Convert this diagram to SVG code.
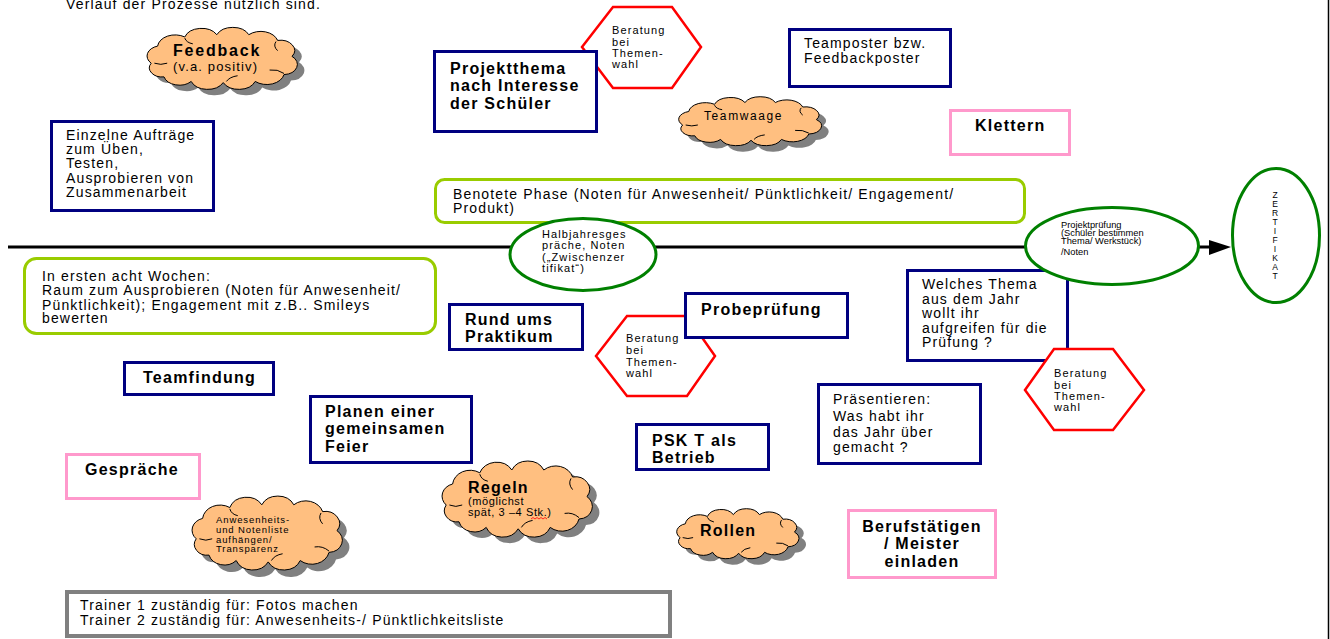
<svg xmlns="http://www.w3.org/2000/svg" xmlns:xlink="http://www.w3.org/1999/xlink" width="1330" height="639" viewBox="0 0 1330 639">
  <style>
    text { font-family: "Liberation Sans", Arial, sans-serif; fill: #000; }
    .t { font-size: 14px; letter-spacing: 1.15px; }
    .b { font-size: 16px; font-weight: bold; letter-spacing: 1.25px; }
    .s { font-size: 11px; letter-spacing: 1.1px; }
    .xs { font-size: 9.5px; letter-spacing: 0.9px; }
    .tiny { font-size: 9.3px; letter-spacing: 0px; }
    .mid { text-anchor: middle; }
    .navy { fill: #fff; stroke: #000080; stroke-width: 3; }
    .pink { fill: #fff; stroke: #ff99cc; stroke-width: 3; }
    .lime { fill: #fff; stroke: #99cc00; stroke-width: 3; }
    .green { fill: #fff; stroke: #008000; stroke-width: 3; }
    .hex { fill: #fff; stroke: #ff0000; stroke-width: 2.5; }
    .grey { fill: #fff; stroke: #808080; stroke-width: 4; }
    .cloud { fill: #ffbf80; stroke: #000; stroke-width: 1; }
    .cloud-shadow { fill: #808080; stroke: none; }
  </style>
  <defs>
    <!-- bumpy cloud outline, stretched to each cloud's box -->
    <symbol id="cloud-shape" viewBox="0 0 100 50" preserveAspectRatio="none" overflow="visible">
      <path vector-effect="non-scaling-stroke" d="M7,30 A9,9 0 0 1 11,15 A11,11 0 0 1 28,7 A11,11 0 0 1 48,5 A11,11 0 0 1 68,5 A11,11 0 0 1 86,10 A9,9 0 0 1 95,24 A9,9 0 0 1 90,40 A11,11 0 0 1 72,46 A11,11 0 0 1 52,47 A11,11 0 0 1 32,46 A10,10 0 0 1 15,42 A8,8 0 0 1 7,30 Z"/>
      <path vector-effect="non-scaling-stroke" fill="none" d="M9,30 Q13,32 17,30 M85,11 Q83,15 86,19 M90,39 Q86,35 81,36 M54,46 Q56,42 61,41 M28,8 Q29,12 33,13"/>
    </symbol>
  </defs>

  <rect width="1330" height="639" fill="#fff"/>

  <!-- page edge on the right -->
  <line x1="1328.5" y1="0" x2="1328.5" y2="639" stroke="#000" stroke-width="1.5"/>

  <text class="t" x="66" y="9">Verlauf der Prozesse nützlich sind.</text>

  <!-- time axis -->
  <g id="connectors">
    <line x1="8" y1="247" x2="1212" y2="247" stroke="#000" stroke-width="3"/>
    <polygon points="1209,240 1231,247 1209,255" fill="#000"/>
  </g>

  <!-- upper half (second term) -->
  <g id="feedback">
    <use xlink:href="#cloud-shape" class="cloud-shadow" x="147" y="35" width="160" height="57"/>
    <use xlink:href="#cloud-shape" class="cloud" x="140" y="29" width="160" height="57"/>
    <text class="b" x="173" y="56" style="letter-spacing:1.8px">Feedback</text>
    <text class="t" x="173" y="71" style="font-size:13px">(v.a. positiv)</text>
  </g>

  <g id="einzelne-auftraege">
    <rect class="navy" x="51.5" y="121.5" width="162" height="89"/>
    <text class="t" x="66" y="140">Einzelne Aufträge</text>
    <text class="t" x="66" y="154">zum Üben,</text>
    <text class="t" x="66" y="168">Testen,</text>
    <text class="t" x="66" y="183">Ausprobieren von</text>
    <text class="t" x="66" y="197">Zusammenarbeit</text>
  </g>

  <g id="beratung-1">
    <polygon class="hex" points="582,47 613,7 672,7 701,47 672,88 613,88"/>
    <text class="s" x="612" y="34">Beratung</text>
    <text class="s" x="612" y="46">bei</text>
    <text class="s" x="612" y="57">Themen-</text>
    <text class="s" x="612" y="68">wahl</text>
  </g>

  <g id="projektthema">
    <rect class="navy" x="434.5" y="51.5" width="162" height="80"/>
    <text class="b" x="450" y="74">Projektthema</text>
    <text class="b" x="450" y="91">nach Interesse</text>
    <text class="b" x="450" y="109">der Schüler</text>
  </g>

  <g id="teamposter">
    <rect class="navy" x="789.5" y="29.5" width="161" height="57"/>
    <text class="t" x="804" y="48">Teamposter bzw.</text>
    <text class="t" x="804" y="63">Feedbackposter</text>
  </g>

  <g id="teamwaage">
    <use xlink:href="#cloud-shape" class="cloud-shadow" x="679" y="104" width="152" height="45"/>
    <use xlink:href="#cloud-shape" class="cloud" x="672" y="98" width="152" height="45"/>
    <text class="t" x="704" y="120" style="font-size:12px;letter-spacing:1.6px">Teamwaage</text>
  </g>

  <g id="klettern">
    <rect class="pink" x="950.5" y="110.5" width="119" height="44"/>
    <text class="b" x="975" y="131">Klettern</text>
  </g>

  <g id="benotete-phase">
    <rect class="lime" x="435.5" y="179.5" width="589" height="43" rx="9"/>
    <text class="t" x="453" y="199">Benotete Phase (Noten für Anwesenheit/ Pünktlichkeit/ Engagement/</text>
    <text class="t" x="453" y="213">Produkt)</text>
  </g>

  <g id="halbjahresgespraeche">
    <ellipse class="green" cx="583" cy="254.5" rx="73" ry="36"/>
    <text class="s" x="542" y="238">Halbjahresges</text>
    <text class="s" x="542" y="249">präche, Noten</text>
    <text class="s" x="542" y="261">(„Zwischenzer</text>
    <text class="s" x="542" y="272">tifikat“)</text>
  </g>

  <g id="welches-thema">
    <rect class="navy" x="907.5" y="270.5" width="160" height="90"/>
    <text class="t" x="922" y="289">Welches Thema</text>
    <text class="t" x="922" y="304">aus dem Jahr</text>
    <text class="t" x="922" y="318">wollt  ihr</text>
    <text class="t" x="922" y="333">aufgreifen für die</text>
    <text class="t" x="922" y="347">Prüfung ?</text>
  </g>

  <g id="projektpruefung">
    <ellipse class="green" cx="1112" cy="246" rx="86.5" ry="38.5"/>
    <text class="tiny" x="1061" y="228">Projektprüfung</text>
    <text class="tiny" x="1061" y="236">(Schüler bestimmen</text>
    <text class="tiny" x="1061" y="244">Thema/ Werkstück)</text>
    <text class="tiny" x="1061" y="255">/Noten</text>
  </g>

  <g id="zertifikat">
    <ellipse class="green" cx="1276" cy="235.5" rx="43.5" ry="67"/>
    <g style="font-size:8.5px" class="mid">
      <text x="1275" y="198">Z</text>
      <text x="1275" y="207">E</text>
      <text x="1275" y="216">R</text>
      <text x="1275" y="225">T</text>
      <text x="1275" y="234">I</text>
      <text x="1275" y="243">F</text>
      <text x="1275" y="252">I</text>
      <text x="1275" y="261">K</text>
      <text x="1275" y="270">A</text>
      <text x="1275" y="279">T</text>
    </g>
  </g>

  <!-- lower half (first term) -->
  <g id="erste-acht-wochen">
    <rect class="lime" x="24.5" y="258.5" width="411" height="75" rx="12"/>
    <text class="t" x="42" y="281">In ersten acht Wochen:</text>
    <text class="t" x="42" y="295">Raum zum Ausprobieren (Noten für Anwesenheit/</text>
    <text class="t" x="42" y="309.5">Pünktlichkeit); Engagement mit z.B.. Smileys</text>
    <text class="t" x="42" y="323">bewerten</text>
  </g>

  <g id="rund-ums-praktikum">
    <rect class="navy" x="449.5" y="304.5" width="133" height="45"/>
    <text class="b" x="465" y="325">Rund ums</text>
    <text class="b" x="465" y="342">Praktikum</text>
  </g>

  <g id="beratung-2">
    <polygon class="hex" points="596,356 627,316 687,316 715,356 687,396 627,396"/>
    <text class="s" x="626" y="342">Beratung</text>
    <text class="s" x="626" y="354">bei</text>
    <text class="s" x="626" y="366">Themen-</text>
    <text class="s" x="626" y="377">wahl</text>
  </g>

  <g id="probepruefung">
    <rect class="navy" x="685.5" y="293.5" width="162" height="44"/>
    <text class="b" x="701" y="315">Probeprüfung</text>
  </g>

  <g id="beratung-3">
    <polygon class="hex" points="1025,390 1054,349 1113,349 1144,390 1113,430 1054,430"/>
    <text class="s" x="1054" y="377">Beratung</text>
    <text class="s" x="1054" y="389">bei</text>
    <text class="s" x="1054" y="400">Themen-</text>
    <text class="s" x="1054" y="411">wahl</text>
  </g>

  <g id="teamfindung">
    <rect class="navy" x="124.5" y="362.5" width="149" height="32"/>
    <text class="b" x="143" y="383">Teamfindung</text>
  </g>

  <g id="planen-feier">
    <rect class="navy" x="310.5" y="396.5" width="161" height="66"/>
    <text class="b" x="325" y="417">Planen einer</text>
    <text class="b" x="325" y="434">gemeinsamen</text>
    <text class="b" x="325" y="452">Feier</text>
  </g>

  <g id="psk-betrieb">
    <rect class="navy" x="636.5" y="424.5" width="132" height="45"/>
    <text class="b" x="652" y="446">PSK T als</text>
    <text class="b" x="652" y="463">Betrieb</text>
  </g>

  <g id="praesentieren">
    <rect class="navy" x="818.5" y="384.5" width="162" height="79"/>
    <text class="t" x="833" y="404">Präsentieren:</text>
    <text class="t" x="833" y="421">Was habt ihr</text>
    <text class="t" x="833" y="437">das Jahr über</text>
    <text class="t" x="833" y="452">gemacht ?</text>
  </g>

  <g id="gespraeche">
    <rect class="pink" x="66.5" y="454.5" width="133" height="44"/>
    <text class="b" x="85" y="475">Gespräche</text>
  </g>

  <g id="anwesenheitsliste">
    <use xlink:href="#cloud-shape" class="cloud-shadow" x="192" y="505" width="160" height="68"/>
    <use xlink:href="#cloud-shape" class="cloud" x="185" y="498" width="160" height="68"/>
    <text class="xs" x="216" y="523">Anwesenheits-</text>
    <text class="xs" x="216" y="533">und Notenliste</text>
    <text class="xs" x="216" y="543">aufhängen/</text>
    <text class="xs" x="216" y="552">Transparenz</text>
  </g>

  <g id="regeln">
    <use xlink:href="#cloud-shape" class="cloud-shadow" x="442" y="469" width="160" height="70"/>
    <use xlink:href="#cloud-shape" class="cloud" x="435" y="463" width="160" height="70"/>
    <text class="b" x="468" y="493">Regeln</text>
    <text class="s" x="468" y="505" style="letter-spacing:0.6px">(möglichst</text>
    <text class="s" x="468" y="516" style="letter-spacing:0.6px">spät, 3 –4 Stk.)</text>
    <path d="M531,519 l2,-1.5 l2,1.5 l2,-1.5 l2,1.5 l2,-1.5 l2,1.5 l2,-1.5 l2,1.5" fill="none" stroke="#ff0000" stroke-width="0.8"/>
  </g>

  <g id="rollen">
    <use xlink:href="#cloud-shape" class="cloud-shadow" x="678" y="516" width="130" height="46"/>
    <use xlink:href="#cloud-shape" class="cloud" x="671" y="510" width="130" height="46"/>
    <text class="b" x="700" y="536">Rollen</text>
  </g>

  <g id="berufstaetige">
    <rect class="pink" x="848.5" y="510.5" width="147" height="67"/>
    <text class="b mid" x="922" y="532">Berufstätigen</text>
    <text class="b mid" x="922" y="549">/ Meister</text>
    <text class="b mid" x="922" y="567">einladen</text>
  </g>

  <g id="trainer">
    <rect class="grey" x="67" y="592" width="603" height="44"/>
    <text class="t" x="80" y="610">Trainer 1 zuständig für: Fotos machen</text>
    <text class="t" x="80" y="625">Trainer 2 zuständig für: Anwesenheits-/ Pünktlichkeitsliste</text>
  </g>
</svg>
